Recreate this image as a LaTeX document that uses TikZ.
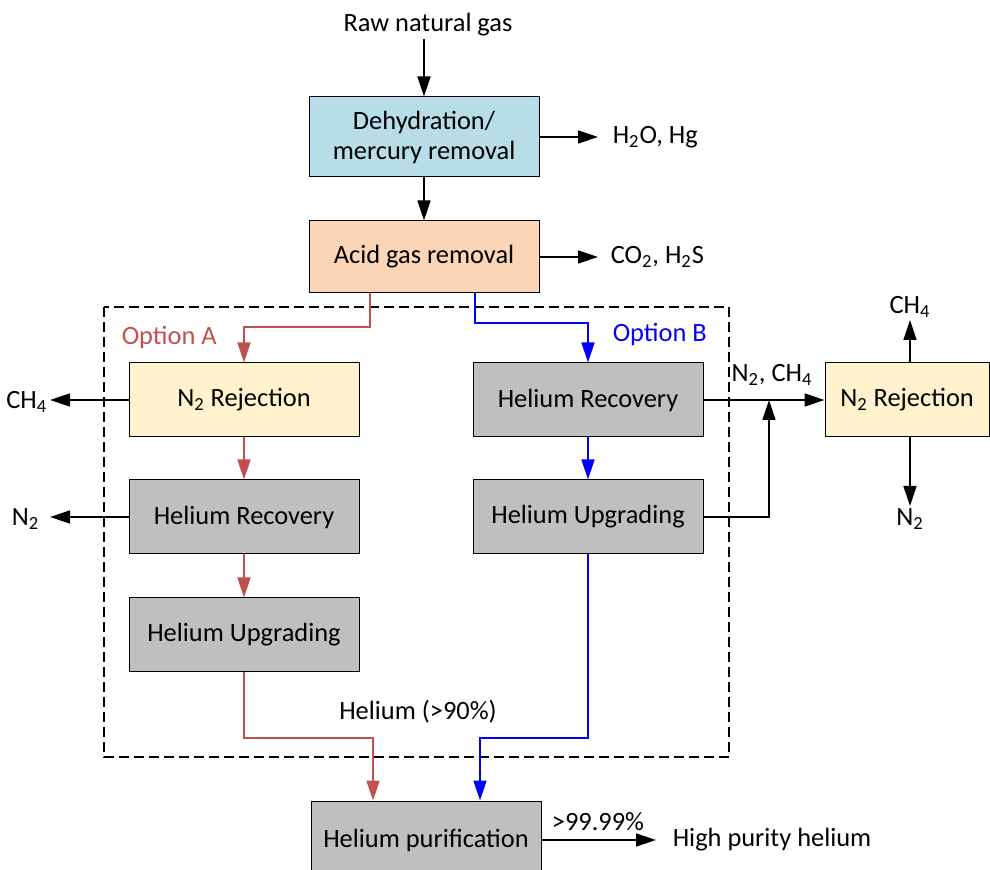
\documentclass[tikz,border=0pt]{standalone}
\usepackage{fontspec}
\setmainfont{Carlito}
\usetikzlibrary{arrows.meta,positioning}

\definecolor{azulcaja}{HTML}{B7DDE8}
\definecolor{naranja}{HTML}{FBD5B5}
\definecolor{amarillo}{HTML}{FFF2CC}
\definecolor{grisHe}{HTML}{BFBFBF}
\definecolor{rojoA}{HTML}{C0504D}
\definecolor{azulB}{HTML}{0000FF}

\begin{document}
\begin{tikzpicture}[x=0.5pt, y=-0.5pt, -{Triangle[length=10pt, width=6.5pt]}, line width=0.75pt,
  font=\fontsize{13.2}{15}\selectfont,
  caja/.style={draw, line width=0.5pt, minimum width=115pt, minimum height=37pt, inner sep=0pt, align=center},
  gris/.style={caja, fill=grisHe},
  lbl/.style={inner sep=1pt},
  salida/.style={lbl, anchor=west, inner xsep=7pt},
  lineaA/.style={draw=rojoA, -{Triangle[length=10pt, width=6.5pt, fill=rojoA]}},
  lineaB/.style={draw=azulB, -{Triangle[length=10pt, width=6.5pt, fill=azulB]}}]

\useasboundingbox (0,0) rectangle (990,870);

% Cajas del tren principal
\node[caja, fill=azulcaja, minimum height=40pt] (dehid) at (424,137) {Dehydration/\\mercury removal};
\node[caja, fill=naranja, minimum height=36pt] (acido) at (424,257) {Acid gas removal};

% Opcion A
\node[caja, fill=amarillo] (nrejA) at (244,400) {N\textsubscript{2} Rejection};
\node[gris] (hrecA) at (244,517) {Helium Recovery};
\node[gris] (hupA) at (244,635) {Helium Upgrading};

% Opcion B
\node[gris] (hrecB) at (588,400) {Helium Recovery};
\node[gris] (hupB) at (588,517) {Helium Upgrading};
\node[caja, fill=amarillo, minimum width=82pt] (nrejB) at (907,400) {N\textsubscript{2} Rejection};

% Purificacion final
\node[gris, minimum height=39pt] (purif) at (426,840) {Helium purification};

% Recuadro de las opciones
\draw[-, dashed, dash pattern=on 5pt off 2.5pt] (104,307) rectangle (729,757);

% Textos de entradas y salidas
\node[lbl] (gas) at (428,25) {Raw natural gas};
\node[salida] (h2o) at (598,137) {H\textsubscript{2}O, Hg};
\node[salida, inner xsep=6pt] (co2) at (598,257) {CO\textsubscript{2}, H\textsubscript{2}S};
\node[lbl, anchor=west, text=rojoA] (optA) at (119,338) {Option A};
\node[lbl, anchor=west, text=azulB] (optB) at (610,335) {Option B};
\node[lbl, anchor=east] (ch4A) at (50,402) {CH\textsubscript{4}};
\node[lbl, anchor=east] (n2A) at (42,519) {N\textsubscript{2}};
\node[lbl] (mezcla) at (772,375) {N\textsubscript{2}, CH\textsubscript{4}};
\node[lbl, anchor=south] (ch4B) at (910,320) {CH\textsubscript{4}};
\node[lbl, anchor=north] (n2B) at (910,506) {N\textsubscript{2}};
\node[lbl] (he90) at (418,712) {Helium (>90\%)};
\node[lbl] (pureza) at (598,822) {>99.99\%};
\node[salida, inner xsep=8pt] (producto) at (656,840) {High purity helium};

% Puntos de quiebre
\coordinate (sepA) at (370,327);
\coordinate (sepB) at (475,323);
\coordinate (unionA) at (373,738);
\coordinate (unionB) at (480,738);
\coordinate (mix) at (769,400);

% Flechas negras
\draw (dehid.north |- gas.south) -- (dehid.north);
\draw (dehid) -- (acido);
\draw (dehid.east) -- (h2o.west);
\draw (acido.east) -- (co2.west);
\draw (nrejA.west) -- (nrejA.west -| ch4A.east);
\draw (hrecA.west) -- (hrecA.west -| ch4A.east);
\draw (hrecB.east) -- (nrejB.west);
\draw (hupB.east) -| (mix);
\draw (nrejB.north -| ch4B.south) -- (ch4B.south);
\draw (nrejB.south -| n2B.north) -- (n2B.north);
\draw (purif.east) -- (producto.west);

% Flechas de la opcion A
\draw[lineaA] (sepA |- acido.south) -- (sepA) -| (nrejA.north);
\draw[lineaA] (nrejA) -- (hrecA);
\draw[lineaA] (hrecA) -- (hupA);
\draw[lineaA] (hupA.south) |- (unionA) -- (unionA |- purif.north);

% Flechas de la opcion B
\draw[lineaB] (sepB |- acido.south) -- (sepB) -| (hrecB.north);
\draw[lineaB] (hrecB) -- (hupB);
\draw[lineaB] (hupB.south) |- (unionB) -- (unionB |- purif.north);

\end{tikzpicture}
\end{document}
